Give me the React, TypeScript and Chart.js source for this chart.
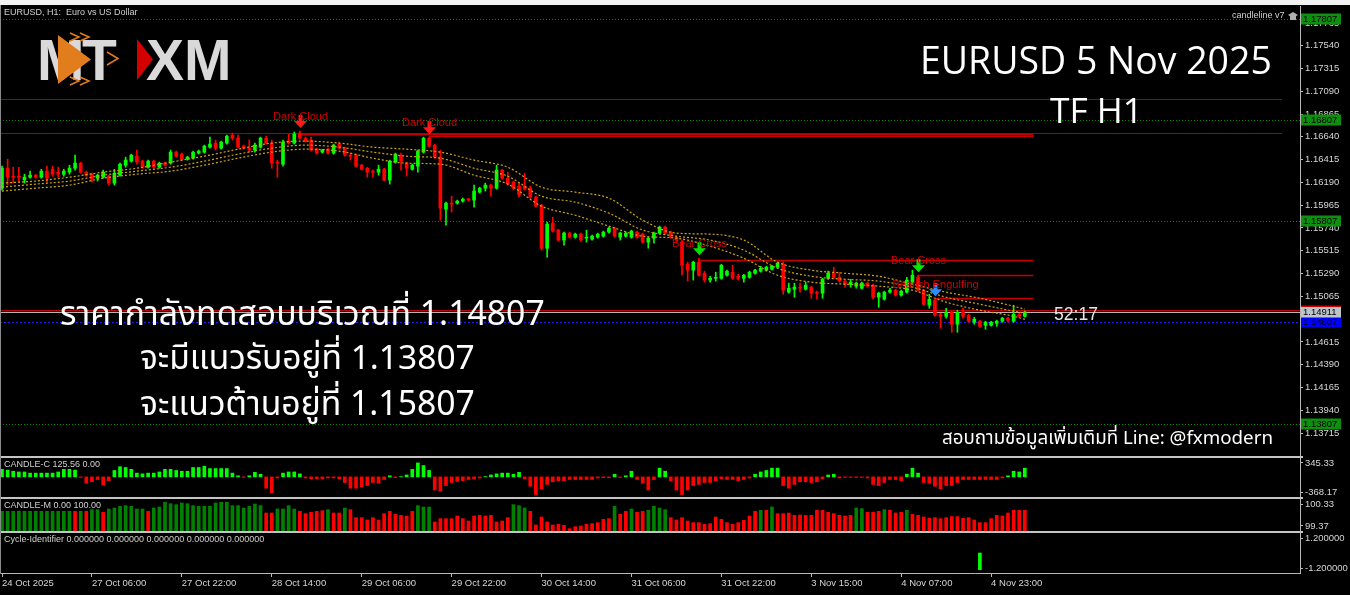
import React, { useEffect, useRef } from "react";
import { Chart, registerables } from "chart.js";
Chart.register(...registerables);

// ---------------- data ----------------
const xTickIndex = [0, 16, 32, 48, 64, 80, 96, 112, 128, 144, 160, 176];
const xTickLabels = ["24 Oct 2025", "27 Oct 06:00", "27 Oct 22:00", "28 Oct 14:00", "29 Oct 06:00", "29 Oct 22:00", "30 Oct 14:00", "31 Oct 06:00", "31 Oct 22:00", "3 Nov 15:00", "4 Nov 07:00", "4 Nov 23:00"];
const priceTicks = [1.13715, 1.1394, 1.14165, 1.1439, 1.14615, 1.1484, 1.15065, 1.1529, 1.15515, 1.1574, 1.15965, 1.1619, 1.16415, 1.1664, 1.16865, 1.1709, 1.17315, 1.1754, 1.17765];

const opens = [
  1.16133, 1.1633, 1.16251, 1.16251, 1.16213, 1.16241, 1.16261, 1.16241, 1.16301, 1.1632,
  1.16291, 1.16271, 1.16291, 1.1633, 1.1638, 1.16291, 1.16271, 1.16231, 1.16241, 1.16251,
  1.16183, 1.16261, 1.1636, 1.164, 1.16449, 1.164, 1.1634, 1.164, 1.1634, 1.1638,
  1.1638, 1.16489, 1.16469, 1.16419, 1.16429, 1.16479, 1.16489, 1.16538, 1.16578, 1.16528,
  1.16578, 1.16657, 1.16627, 1.16548, 1.16528, 1.16509, 1.16538, 1.16627, 1.16578, 1.1639,
  1.1637, 1.16598, 1.16578, 1.16677, 1.16627, 1.16608, 1.16518, 1.16489, 1.16518, 1.16479,
  1.16568, 1.16528, 1.16459, 1.16459, 1.1636, 1.1633, 1.16301, 1.16291, 1.1632, 1.16213,
  1.1639, 1.16459, 1.1638, 1.1632, 1.1635, 1.16489, 1.16627, 1.16558, 1.16439, 1.15925,
  1.15985, 1.15985, 1.16005, 1.16024, 1.16015, 1.16094, 1.16133, 1.16163, 1.16133, 1.16311,
  1.16231, 1.16193, 1.16153, 1.16153, 1.16133, 1.16044, 1.15965, 1.1554, 1.15787, 1.15719,
  1.1562, 1.15689, 1.15649, 1.15679, 1.15639, 1.15629, 1.15649, 1.15659, 1.15699, 1.15738,
  1.15649, 1.15659, 1.15649, 1.15699, 1.15679, 1.156, 1.15639, 1.15689, 1.15748, 1.15699,
  1.15649, 1.156, 1.15382, 1.15323, 1.15402, 1.15293, 1.15225, 1.15243, 1.15243, 1.15273,
  1.15303, 1.15263, 1.15243, 1.15253, 1.15293, 1.15313, 1.15323, 1.15332, 1.15352, 1.15382,
  1.15106, 1.15135, 1.15155, 1.15135, 1.15155, 1.15106, 1.15096, 1.15243, 1.15293, 1.15253,
  1.15215, 1.15185, 1.15165, 1.15145, 1.15195, 1.15175, 1.15056, 1.15036, 1.15106, 1.15126,
  1.15076, 1.15106, 1.15205, 1.15253, 1.15126, 1.14977, 1.15027, 1.14888, 1.14868, 1.14908,
  1.14789, 1.14908, 1.14878, 1.14809, 1.14819, 1.14779, 1.14779, 1.14799, 1.14819, 1.14848,
  1.14819, 1.14888, 1.14868,
];
const highs = [
  1.1635, 1.16419, 1.1634, 1.1634, 1.16271, 1.16301, 1.16271, 1.1632, 1.1635, 1.1635,
  1.1634, 1.1632, 1.1636, 1.16459, 1.1639, 1.16301, 1.16281, 1.16271, 1.16311, 1.16261,
  1.1632, 1.1638, 1.16439, 1.16469, 1.16509, 1.1641, 1.1641, 1.1641, 1.1639, 1.1639,
  1.16509, 1.16499, 1.16479, 1.16449, 1.16499, 1.16509, 1.16558, 1.16637, 1.16608, 1.16598,
  1.16657, 1.16677, 1.16657, 1.16558, 1.16608, 1.16578, 1.16637, 1.16647, 1.16608, 1.1641,
  1.16608, 1.16667, 1.16687, 1.16697, 1.16637, 1.16637, 1.16528, 1.16518, 1.16528, 1.16568,
  1.16588, 1.16538, 1.16479, 1.16469, 1.1637, 1.1634, 1.16311, 1.1636, 1.1633, 1.1641,
  1.16479, 1.16479, 1.1639, 1.1637, 1.16509, 1.16637, 1.16637, 1.16568, 1.16509, 1.15995,
  1.16054, 1.16015, 1.16034, 1.16034, 1.16163, 1.16143, 1.16183, 1.16173, 1.1636, 1.1632,
  1.16291, 1.16203, 1.16183, 1.16281, 1.16153, 1.16054, 1.15975, 1.15797, 1.15846, 1.15728,
  1.15699, 1.15699, 1.15689, 1.15689, 1.15719, 1.15669, 1.15689, 1.15709, 1.15748, 1.15748,
  1.15699, 1.15699, 1.15719, 1.15709, 1.15689, 1.15649, 1.15699, 1.15758, 1.15758, 1.15709,
  1.15659, 1.1562, 1.15402, 1.15412, 1.15441, 1.15313, 1.15263, 1.15303, 1.15382, 1.15323,
  1.15372, 1.15283, 1.15283, 1.15313, 1.15332, 1.15362, 1.15362, 1.15372, 1.15402, 1.15402,
  1.15195, 1.15195, 1.15195, 1.15205, 1.15165, 1.15116, 1.15243, 1.15313, 1.15352, 1.15303,
  1.15225, 1.15233, 1.15205, 1.15205, 1.15205, 1.15185, 1.15106, 1.15116, 1.15145, 1.15135,
  1.15126, 1.15253, 1.15323, 1.15273, 1.15135, 1.15086, 1.15036, 1.14898, 1.14947, 1.14918,
  1.14928, 1.14947, 1.14888, 1.14858, 1.14829, 1.14819, 1.14819, 1.14829, 1.14858, 1.14858,
  1.14977, 1.14898, 1.14918,
];
const lows = [
  1.16114, 1.16163, 1.16183, 1.16193, 1.16183, 1.16231, 1.16231, 1.16231, 1.16193, 1.16251,
  1.16241, 1.16251, 1.16271, 1.16311, 1.16281, 1.16251, 1.16193, 1.16203, 1.16231, 1.16163,
  1.16163, 1.16251, 1.1634, 1.1639, 1.1637, 1.1633, 1.1633, 1.1633, 1.1633, 1.1635,
  1.1637, 1.16439, 1.1641, 1.1641, 1.16419, 1.16469, 1.16479, 1.16528, 1.16509, 1.16518,
  1.16568, 1.16608, 1.16528, 1.16518, 1.16489, 1.16489, 1.16528, 1.16568, 1.1633, 1.16241,
  1.1635, 1.16568, 1.16568, 1.16617, 1.16588, 1.16499, 1.16469, 1.16479, 1.16469, 1.16469,
  1.16518, 1.16449, 1.1641, 1.1634, 1.16311, 1.16241, 1.16241, 1.16261, 1.16203, 1.16173,
  1.1638, 1.16311, 1.16251, 1.16311, 1.16291, 1.16479, 1.16538, 1.16429, 1.15817, 1.15767,
  1.15896, 1.15975, 1.15995, 1.16005, 1.15945, 1.16084, 1.16104, 1.16054, 1.16123, 1.16221,
  1.16163, 1.16114, 1.16044, 1.16114, 1.16034, 1.15945, 1.15521, 1.15451, 1.15699, 1.1561,
  1.1557, 1.15639, 1.15639, 1.1561, 1.156, 1.1562, 1.15639, 1.15649, 1.15689, 1.15649,
  1.1562, 1.15649, 1.15639, 1.15639, 1.1559, 1.1554, 1.1559, 1.15679, 1.15679, 1.15639,
  1.1561, 1.15273, 1.15215, 1.15225, 1.15263, 1.15205, 1.15205, 1.15215, 1.15233, 1.15263,
  1.15233, 1.15225, 1.15205, 1.15243, 1.15283, 1.15303, 1.15313, 1.15323, 1.15342, 1.15086,
  1.15096, 1.15056, 1.15106, 1.15126, 1.15046, 1.15036, 1.15046, 1.15233, 1.15243, 1.15205,
  1.15155, 1.15155, 1.15145, 1.15135, 1.15155, 1.15036, 1.14957, 1.15027, 1.15096, 1.15066,
  1.15066, 1.15096, 1.15195, 1.15116, 1.14977, 1.14947, 1.14868, 1.14749, 1.14848, 1.1471,
  1.1471, 1.14848, 1.14809, 1.14789, 1.14759, 1.14739, 1.14769, 1.14769, 1.14809, 1.14809,
  1.14809, 1.14858, 1.14858,
];
const closes = [
  1.1633, 1.16241, 1.16241, 1.16241, 1.16241, 1.16261, 1.16241, 1.16301, 1.16231, 1.16271,
  1.16271, 1.16301, 1.1633, 1.1638, 1.16291, 1.16261, 1.16221, 1.16261, 1.16291, 1.16183,
  1.16281, 1.1637, 1.1641, 1.16459, 1.1639, 1.1634, 1.164, 1.1634, 1.1638, 1.1636,
  1.16489, 1.16449, 1.16419, 1.16439, 1.16489, 1.16499, 1.16548, 1.16568, 1.16528, 1.16588,
  1.16647, 1.16627, 1.16538, 1.16528, 1.16509, 1.16558, 1.16627, 1.16578, 1.1638, 1.1638,
  1.16588, 1.16578, 1.16667, 1.16627, 1.16598, 1.16509, 1.16479, 1.16509, 1.16479, 1.16558,
  1.16528, 1.16459, 1.16449, 1.1635, 1.1632, 1.16291, 1.16291, 1.1632, 1.16213, 1.164,
  1.16469, 1.164, 1.1633, 1.1636, 1.16499, 1.16627, 1.16548, 1.16439, 1.15935, 1.15985,
  1.15975, 1.16005, 1.16024, 1.16015, 1.16104, 1.16133, 1.16163, 1.16133, 1.16311, 1.16231,
  1.16173, 1.16133, 1.16064, 1.16123, 1.16044, 1.15955, 1.1554, 1.15777, 1.15709, 1.1562,
  1.15689, 1.15649, 1.15679, 1.1562, 1.15649, 1.15659, 1.15679, 1.15699, 1.15738, 1.15659,
  1.15689, 1.15689, 1.15709, 1.15649, 1.156, 1.15639, 1.15689, 1.15748, 1.15689, 1.15649,
  1.1562, 1.15372, 1.15323, 1.15402, 1.15273, 1.15225, 1.15243, 1.15253, 1.15372, 1.15313,
  1.15243, 1.15243, 1.15273, 1.15303, 1.15323, 1.15342, 1.15352, 1.15362, 1.15392, 1.15126,
  1.15145, 1.15155, 1.15145, 1.15175, 1.15096, 1.15096, 1.15233, 1.15293, 1.15253, 1.15215,
  1.15185, 1.15205, 1.15195, 1.15195, 1.15165, 1.15056, 1.15096, 1.15106, 1.15126, 1.15076,
  1.15116, 1.15225, 1.15273, 1.15126, 1.14987, 1.15036, 1.14878, 1.14868, 1.14908, 1.14789,
  1.14908, 1.14868, 1.14819, 1.14838, 1.14769, 1.14809, 1.14809, 1.14819, 1.14848, 1.14829,
  1.14888, 1.14868, 1.14911,
];

// moving-average envelope read at every 6th bar
const maIndex = [0, 6, 12, 18, 24, 30, 36, 42, 48, 54, 60, 66, 72, 78, 84, 90, 96, 102, 108, 114, 120, 126, 132, 138, 144, 150, 156, 162, 168, 174, 180, 182];
const maUpper = [1.16183, 1.16203, 1.16241, 1.16291, 1.1633, 1.1639, 1.16449, 1.16518, 1.16578, 1.16598, 1.16578, 1.16538, 1.16518, 1.16489, 1.1641, 1.1634, 1.16143, 1.16094, 1.16034, 1.15817, 1.15689, 1.15679, 1.1562, 1.15402, 1.15323, 1.15293, 1.15263, 1.15185, 1.15106, 1.15046, 1.14967, 1.14938];
const maMiddle = [1.16143, 1.16173, 1.16203, 1.16261, 1.16301, 1.1634, 1.164, 1.16469, 1.16528, 1.16558, 1.16538, 1.16489, 1.16449, 1.16429, 1.1633, 1.16251, 1.16054, 1.15995, 1.15886, 1.15719, 1.15659, 1.1562, 1.15521, 1.15342, 1.15263, 1.15233, 1.15215, 1.15155, 1.15056, 1.14987, 1.14918, 1.14898];
const maLower = [1.16104, 1.16133, 1.16163, 1.16231, 1.16271, 1.16301, 1.1636, 1.16429, 1.16489, 1.16518, 1.16499, 1.16429, 1.1638, 1.1637, 1.16261, 1.16173, 1.15955, 1.15866, 1.15758, 1.15659, 1.15639, 1.1556, 1.15441, 1.15273, 1.15205, 1.15185, 1.15165, 1.15126, 1.15007, 1.14928, 1.14868, 1.14838];

// horizontal levels
const keyLevels = [1.17807, 1.16807, 1.15807, 1.13807];
const testLevel = 1.14807;
const bidPrice = 1.14911;
const askPrice = 1.14928;
const longRedLevels = [1.17013, 1.16677];
const segStartBar = [53, 76, 124, 163, 166];
const segPrice = [1.16667, 1.16647, 1.15422, 1.15273, 1.15046];

// candlestick patterns
const patternBars = [53, 76, 124, 163, 166];
const patternNames = ["Dark Cloud", "Dark Cloud", "Bear Cross", "Bear Cross", "Bearish Engulfing"];

// indicators
const candleC = [
  138, 124, 103, 90, 90, 69, 69, 69, 69, 69,
  90, 138, 138, 124, -10, -117, -90, -48, -152, -69,
  117, 186, 172, 138, 69, 55, 69, 69, 90, 138,
  138, 117, 103, 103, 172, 172, 193, 152, 152, 152,
  152, 69, 20, -10, 20, 83, 48, -207, -290, -20,
  69, 90, 90, 55, -20, -35, -35, -35, -20, -20,
  -35, -103, -207, -207, -186, -159, -103, -117, -48, 20,
  -15, 5, 35, 138, 255, 207, 117, -241, -262, -159,
  -103, -83, -69, -48, -35, -20, 5, 35, 55, 69,
  69, 48, 83, -35, -172, -324, -221, -138, -90, -69,
  -69, -48, -48, -48, -48, -48, -20, -15, -15, 48,
  -10, 20, 103, -48, -117, -241, -50, 159, 103, -69,
  -241, -324, -241, -159, -138, -103, -103, -69, -35, -48,
  -48, -69, -48, -20, 48, 90, 117, 159, 159, -159,
  -207, -138, -90, -90, -103, -90, -35, 35, 48, -20,
  -10, -10, -10, -10, -20, -138, -159, -103, -48, -48,
  -69, 48, 159, 69, -103, -117, -172, -221, -159, -159,
  -103, -48, -48, -48, -48, -48, -48, -48, -20, 20,
  103, 90, 159,
];
const candleM = [
  99.96, 99.96, 99.96, 99.96, 99.96, 99.96, 99.96, 99.96, 99.96, 99.96,
  99.96, 99.96, 99.96, 99.96, 99.96, 99.96, 100.01, 100.01, 99.93, 100.03,
  100.06, 100.11, 100.13, 100.11, 100.03, 100.03, 99.96, 100.06, 100.09, 100.23,
  100.19, 100.16, 100.21, 100.19, 100.13, 100.11, 100.11, 100.11, 100.21, 100.23,
  100.23, 100.13, 100.13, 100.06, 100.11, 100.18, 100.13, 99.91, 99.91, 100.03,
  100.03, 100.13, 100.03, 99.96, 99.89, 99.93, 99.96, 99.98, 100.01, 99.91,
  99.91, 100.06, 100.01, 99.77, 99.77, 99.7, 99.77, 99.7, 99.89, 99.96,
  99.87, 99.84, 99.82, 99.96, 100.13, 100.09, 100.09, 99.64, 99.74, 99.74,
  99.74, 99.82, 99.74, 99.67, 99.82, 99.84, 99.82, 99.84, 99.64, 99.67,
  99.77, 100.16, 100.13, 100.06, 99.96, 99.55, 99.79, 99.64, 99.55, 99.57,
  99.54, 99.44, 99.5, 99.52, 99.57, 99.59, 99.62, 99.72, 99.74, 100.11,
  99.87, 99.96, 100.03, 99.93, 99.96, 99.99, 100.11, 100.06, 100.01, 99.77,
  99.7, 99.77, 99.67, 99.62, 99.62, 99.57, 99.59, 99.79, 99.72, 99.62,
  99.57, 99.62, 99.69, 99.82, 99.96, 99.99, 99.99, 100.09, 99.89, 99.89,
  99.91, 99.84, 99.85, 99.84, 99.84, 99.99, 99.99, 99.93, 99.89, 99.84,
  99.82, 99.84, 100.06, 100.04, 99.93, 99.93, 99.96, 100.01, 99.99, 99.91,
  99.93, 99.99, 99.87, 99.84, 99.79, 99.75, 99.77, 99.74, 99.77, 99.8,
  99.8, 99.75, 99.77, 99.7, 99.62, 99.62, 99.74, 99.84, 99.82, 99.91,
  99.99, 99.99, 99.99,
];
// CANDLE-M state, run-length: [state, number of bars]
const candleMRuns = [
  ["G", 13], ["R", 1], ["G", 1], ["R", 1], ["G", 2], ["R", 1], ["G", 7], ["R", 1], ["G", 20], ["R", 2],
  ["G", 4], ["R", 5], ["G", 1], ["R", 2], ["G", 1], ["R", 12], ["G", 3], ["R", 14], ["G", 3], ["R", 15],
  ["G", 1], ["R", 2], ["G", 1], ["R", 2], ["G", 4], ["R", 16], ["G", 1], ["R", 1], ["G", 1], ["R", 14],
  ["G", 2], ["R", 3], ["G", 1], ["R", 3], ["G", 1], ["R", 21],
];
const cycleBars = [174];
const cycleValues = [-1];

// ---------------- layout / style ----------------
const X_MIN = -0.356;
const X_MAX = 230.96;
const AXIS_W = 50;
const MAIN_TOP = 6;
const MAIN_H = 450;
const Y_MIN = 1.13488;
const Y_MAX = 1.17932;
const BULL = "#00ff00";
const BEAR = "#ff0000";
const MA_COLOR = "#cfa514";
const AXIS_TXT = "#d6d6d6";
const AXIS_LINE = "#b8b8b8";
const SMALL_FONT = "'Liberation Sans', Arial, sans-serif";
const TITLE_FONT = "'Open Sans', 'Noto Sans', sans-serif";
const THAI_FONT = "'Noto Sans Thai', 'Noto Sans Thai Looped', 'Noto Sans', 'Open Sans', sans-serif";
const ARROW_COLORS = { "Dark Cloud": "#ff1a1a", "Bear Cross": "#00e600", "Bearish Engulfing": "#2d8cff" };

const idx = opens.map((_, i) => i);
const candleColors = idx.map((i) => (closes[i] >= opens[i] ? BULL : BEAR));

function fitText(ctx, text, x, cy, width, nominal, family, color, weight = "400") {
  ctx.font = `${weight} ${nominal}px ${family}`;
  const w = ctx.measureText(text).width || width;
  let size = (nominal * width) / w;
  size = Math.max(nominal * 0.75, Math.min(nominal * 1.3, size));
  ctx.font = `${weight} ${size}px ${family}`;
  ctx.fillStyle = color;
  ctx.textAlign = "left";
  ctx.textBaseline = "middle";
  ctx.fillText(text, x, cy);
}

function hLine(ctx, x1, x2, y) {
  ctx.beginPath();
  ctx.moveTo(x1, y);
  ctx.lineTo(x2, y);
  ctx.stroke();
}

function drawLogo(ctx, oy) {
  ctx.save();
  ctx.textAlign = "left";
  ctx.textBaseline = "alphabetic";
  ctx.font = `bold 57px ${SMALL_FONT}`;
  ctx.fillStyle = "#d9d9d9";
  ctx.fillText("M", 37, 80 - oy);
  ctx.fillText("T", 82, 80 - oy);
  ctx.fillStyle = "#e27d1d";
  ctx.beginPath();
  ctx.moveTo(58, 35 - oy);
  ctx.lineTo(91, 59.5 - oy);
  ctx.lineTo(58, 84 - oy);
  ctx.closePath();
  ctx.fill();
  ctx.strokeStyle = "#e27d1d";
  ctx.lineWidth = 1.5;
  const chev = (x, y, w, h) => {
    ctx.beginPath();
    ctx.moveTo(x, y - oy);
    ctx.lineTo(x + w, y + h / 2 - oy);
    ctx.lineTo(x, y + h - oy);
    ctx.stroke();
  };
  chev(70, 33, 9, 8);
  chev(80, 33, 9, 8);
  chev(70, 77, 9, 8);
  chev(80, 77, 9, 8);
  chev(107, 52, 11, 13);
  ctx.fillStyle = "#d40000";
  ctx.beginPath();
  ctx.moveTo(137, 39 - oy);
  ctx.lineTo(153, 59.5 - oy);
  ctx.lineTo(137, 80 - oy);
  ctx.closePath();
  ctx.fill();
  ctx.fillStyle = "#d9d9d9";
  ctx.fillText("XM", 146, 80 - oy);
  ctx.restore();
}

function priceBox(ctx, y, text, bg, fg) {
  const yy = Math.round(y);
  ctx.fillStyle = bg;
  ctx.fillRect(1301, yy - 5.5, 40, 11);
  ctx.fillStyle = fg;
  ctx.font = `9.5px ${SMALL_FONT}`;
  ctx.textAlign = "left";
  ctx.textBaseline = "middle";
  ctx.fillText(text, 1303, yy + 0.5);
}

const mainOverlay = {
  id: "mainOverlay",
  beforeDatasetsDraw(chart) {
    const { ctx, chartArea } = chart;
    const xs = chart.scales.x;
    const ys = chart.scales.y;
    const py = (v) => Math.round(ys.getPixelForValue(v)) + 0.5;
    ctx.save();
    ctx.lineWidth = 1;
    ctx.strokeStyle = "#008c00";
    ctx.setLineDash([1, 2]);
    keyLevels.forEach((p) => hLine(ctx, 0, chartArea.right, py(p)));
    ctx.strokeStyle = "#1a1aff";
    ctx.setLineDash([2, 2]);
    hLine(ctx, 0, chartArea.right, py(testLevel));
    ctx.setLineDash([]);
    const endX = xs.getPixelForValue(183.5);
    ctx.strokeStyle = "#a80000";
    longRedLevels.forEach((p) => hLine(ctx, 0, 1282, py(p)));
    ctx.strokeStyle = "#c40000";
    ctx.lineWidth = 1.5;
    segStartBar.forEach((b, k) => hLine(ctx, xs.getPixelForValue(b), endX, py(segPrice[k])));
    ctx.lineWidth = 1;
    ctx.strokeStyle = "#c00000";
    hLine(ctx, 0, chartArea.right, py(askPrice));
    ctx.strokeStyle = "#b4b4b4";
    hLine(ctx, 0, chartArea.right, py(bidPrice));
    ctx.restore();
  },
  afterDatasetsDraw(chart) {
    const { ctx } = chart;
    const xs = chart.scales.x;
    const ys = chart.scales.y;
    ctx.save();
    patternBars.forEach((b, k) => {
      const cx = Math.round(xs.getPixelForValue(b)) + 0.5;
      const tip = ys.getPixelForValue(highs[b]) - 3;
      const name = patternNames[k];
      ctx.fillStyle = ARROW_COLORS[name];
      ctx.fillRect(cx - 2, tip - 13, 4, 7);
      ctx.beginPath();
      ctx.moveTo(cx - 6.5, tip - 7);
      ctx.lineTo(cx + 6.5, tip - 7);
      ctx.lineTo(cx, tip);
      ctx.closePath();
      ctx.fill();
      ctx.font = `11px ${SMALL_FONT}`;
      ctx.fillStyle = "#d00000";
      ctx.textAlign = "center";
      ctx.textBaseline = "middle";
      ctx.fillText(name, cx, tip - 11);
    });
    ctx.restore();
  },
  afterDraw(chart) {
    const { ctx } = chart;
    const ys = chart.scales.y;
    const oy = MAIN_TOP;
    ctx.save();
    keyLevels.forEach((p) => priceBox(ctx, ys.getPixelForValue(p), p.toFixed(5), "#0e8f0e", "#000"));
    priceBox(ctx, ys.getPixelForValue(testLevel), testLevel.toFixed(5), "#0000ff", "#000");
    priceBox(ctx, ys.getPixelForValue(bidPrice), bidPrice.toFixed(5), "#bcc4cc", "#000");
    ctx.fillStyle = "#d00000";
    ctx.fillRect(1301, Math.round(ys.getPixelForValue(bidPrice)) - 6.5, 40, 1.5);

    // MT4 captions
    ctx.font = `9px ${SMALL_FONT}`;
    ctx.fillStyle = "#d0d0d0";
    ctx.textAlign = "left";
    ctx.textBaseline = "middle";
    ctx.fillText("EURUSD, H1:  Euro vs US Dollar", 4, 13 - oy);
    ctx.fillText("candleline v7", 1232, 16 - oy);
    ctx.fillStyle = "#b0b0b0";
    ctx.beginPath();
    ctx.moveTo(1288, 15 - oy);
    ctx.lineTo(1293, 12 - oy);
    ctx.lineTo(1298, 15 - oy);
    ctx.lineTo(1293, 18 - oy);
    ctx.closePath();
    ctx.fill();
    ctx.fillRect(1290, 16 - oy, 6, 4);

    drawLogo(ctx, oy);

    fitText(ctx, "EURUSD 5 Nov 2025", 920, 63 - oy, 352, 36, TITLE_FONT, "#ffffff");
    fitText(ctx, "TF H1", 1050, 113 - oy, 93, 36, TITLE_FONT, "#ffffff");
    fitText(ctx, "ราคากำลังทดสอบบริเวณที่ 1.14807", 60, 318 - oy, 485, 30, THAI_FONT, "#ffffff");
    fitText(ctx, "จะมีแนวรับอยู่ที่ 1.13807", 140, 362 - oy, 335, 30, THAI_FONT, "#ffffff");
    fitText(ctx, "จะแนวต้านอยู่ที่ 1.15807", 140, 408 - oy, 335, 30, THAI_FONT, "#ffffff");
    fitText(ctx, "สอบถามข้อมูลเพิ่มเติมที่ Line: @fxmodern", 942, 440 - oy, 331, 17, THAI_FONT, "#ffffff");
    fitText(ctx, "52:17", 1054, 315 - oy, 44, 16, SMALL_FONT, "#e6e6e6");
    ctx.restore();
  },
};

function yAxisRight(extra) {
  return {
    type: "linear",
    position: "right",
    afterFit: (s) => {
      s.width = AXIS_W;
      s.paddingTop = 0;
      s.paddingBottom = 0;
    },
    ticks: { autoSkip: false, color: AXIS_TXT, padding: 2, font: { family: SMALL_FONT, size: 9.5 } },
    grid: { drawOnChartArea: false, drawTicks: true, tickLength: 3, color: AXIS_LINE },
    border: { display: true, color: AXIS_LINE },
    ...extra,
  };
}

function hiddenX() {
  return { type: "linear", min: X_MIN, max: X_MAX, offset: false, display: false, grid: { offset: false } };
}

const baseOptions = {
  responsive: false,
  animation: false,
  devicePixelRatio: 1,
  events: [],
  layout: { padding: 0 },
  plugins: { legend: { display: false }, tooltip: { enabled: false } },
};

function mainConfig() {
  const line = (vals) => ({
    type: "line",
    data: maIndex.map((x, k) => ({ x, y: vals[k] })),
    borderColor: MA_COLOR,
    borderWidth: 1.2,
    borderDash: [2, 2],
    pointRadius: 0,
    cubicInterpolationMode: "monotone",
    order: 0,
  });
  return {
    type: "bar",
    data: {
      datasets: [
        line(maUpper),
        line(maMiddle),
        line(maLower),
        {
          type: "bar",
          data: idx.map((i) => ({ x: i, y: [opens[i], closes[i]] })),
          backgroundColor: candleColors,
          barThickness: 3,
          grouped: false,
          minBarLength: 1,
          borderWidth: 0,
          order: 1,
        },
        {
          type: "bar",
          data: idx.map((i) => ({ x: i, y: [lows[i], highs[i]] })),
          backgroundColor: candleColors,
          barThickness: 1,
          grouped: false,
          borderWidth: 0,
          order: 2,
        },
      ],
    },
    options: {
      ...baseOptions,
      scales: {
        x: hiddenX(),
        y: yAxisRight({
          min: Y_MIN,
          max: Y_MAX,
          afterBuildTicks: (s) => {
            s.ticks = priceTicks.map((v) => ({ value: v }));
          },
          ticks: {
            autoSkip: false,
            color: AXIS_TXT,
            padding: 2,
            font: { family: SMALL_FONT, size: 9.5 },
            callback: (v) => Number(v).toFixed(5),
          },
        }),
      },
    },
    plugins: [mainOverlay],
  };
}

function titlePlugin(text) {
  return {
    id: "panelTitle",
    afterDraw(chart) {
      const { ctx } = chart;
      ctx.save();
      ctx.font = `9px ${SMALL_FONT}`;
      ctx.fillStyle = "#d0d0d0";
      ctx.textAlign = "left";
      ctx.textBaseline = "middle";
      ctx.fillText(text, 4, 7);
      ctx.restore();
    },
  };
}

function panelY(min, max, h, labels) {
  const span = max - min;
  const lo = min + (5 / h) * span;
  const hi = max - (5 / h) * span;
  return yAxisRight({
    min,
    max,
    afterBuildTicks: (s) => {
      s.ticks = [{ value: lo }, { value: hi }];
    },
    ticks: {
      autoSkip: false,
      color: AXIS_TXT,
      padding: 2,
      font: { family: SMALL_FONT, size: 9.5 },
      callback: (v, i) => labels[i],
    },
  });
}

const candleMState = candleMRuns.flatMap(([s, n]) => Array.from({ length: n }, () => s));

function candleCConfig(h) {
  return {
    type: "bar",
    data: {
      datasets: [
        {
          data: candleC.map((v, i) => ({ x: i, y: v })),
          backgroundColor: candleC.map((v) => (v >= 0 ? BULL : BEAR)),
          barThickness: 3,
          grouped: false,
          borderWidth: 0,
        },
      ],
    },
    options: {
      ...baseOptions,
      scales: { x: hiddenX(), y: panelY(-368.17, 345.33, h, ["-368.17", "345.33"]) },
    },
    plugins: [titlePlugin("CANDLE-C 125.56 0.00")],
  };
}

function candleMConfig(h) {
  return {
    type: "bar",
    data: {
      datasets: [
        {
          data: candleM.map((v, i) => ({ x: i, y: v })),
          backgroundColor: candleMState.map((s) => (s === "G" ? "#008000" : "#ff0000")),
          base: 99.37,
          barThickness: 3,
          grouped: false,
          borderWidth: 0,
        },
      ],
    },
    options: {
      ...baseOptions,
      scales: { x: hiddenX(), y: panelY(99.37, 100.33, h, ["99.37", "100.33"]) },
    },
    plugins: [titlePlugin("CANDLE-M 0.00 100.00")],
  };
}

function cycleConfig(h) {
  return {
    type: "bar",
    data: {
      datasets: [
        {
          data: cycleBars.map((b, k) => ({ x: b, y: cycleValues[k] })),
          backgroundColor: BULL,
          barThickness: 3,
          grouped: false,
          borderWidth: 0,
        },
      ],
    },
    options: {
      ...baseOptions,
      scales: {
        x: {
          type: "linear",
          min: X_MIN,
          max: X_MAX,
          offset: false,
          position: "bottom",
          afterBuildTicks: (s) => {
            s.ticks = xTickIndex.map((v) => ({ value: v }));
          },
          afterFit: (s) => {
            s.height = 22;
            s.paddingLeft = 0;
            s.paddingRight = 0;
          },
          ticks: {
            autoSkip: false,
            maxRotation: 0,
            minRotation: 0,
            align: "start",
            padding: 1,
            color: AXIS_TXT,
            font: { family: SMALL_FONT, size: 9.5 },
            callback: (v, i) => xTickLabels[i],
          },
          grid: { drawOnChartArea: false, drawTicks: true, tickLength: 4, color: AXIS_LINE, offset: false },
          border: { display: true, color: AXIS_LINE },
        },
        y: panelY(-1.2, 1.2, h, ["-1.200000", "1.200000"]),
      },
    },
    plugins: [titlePlugin("Cycle-Identifier 0.000000 0.000000 0.000000 0.000000 0.000000")],
  };
}

const C_TOP = 458, C_H = 39;
const M_TOP = 499, M_H = 32;
const CY_TOP = 533, CY_H = 40;

export default function App() {
  const mainRef = useRef(null);
  const cRef = useRef(null);
  const mRef = useRef(null);
  const cyRef = useRef(null);

  useEffect(() => {
    const charts = [
      new Chart(mainRef.current, mainConfig() as any),
      new Chart(cRef.current, candleCConfig(C_H) as any),
      new Chart(mRef.current, candleMConfig(M_H) as any),
      new Chart(cyRef.current, cycleConfig(CY_H) as any),
    ];
    return () => charts.forEach((c) => c.destroy());
  }, []);

  const abs = (top, h) => ({ position: "absolute" as const, left: 0, top, width: 1350, height: h, display: "block" });
  const sep = (top, h = 2, color = "#c4c4c4") => (
    <div style={{ position: "absolute", left: 0, top, width: 1303, height: h, background: color }} />
  );

  return (
    <div style={{ position: "fixed", left: 0, top: 0, width: 1350, height: 595, background: "#000", overflow: "hidden" }}>
      <div style={{ position: "absolute", left: 0, top: 0, width: 1350, height: 5, background: "#f2f2f2" }} />
      <canvas ref={mainRef} width={1350} height={MAIN_H} style={abs(MAIN_TOP, MAIN_H)} />
      {sep(456)}
      <canvas ref={cRef} width={1350} height={C_H} style={abs(C_TOP, C_H)} />
      {sep(497)}
      <canvas ref={mRef} width={1350} height={M_H} style={abs(M_TOP, M_H)} />
      {sep(531)}
      <canvas ref={cyRef} width={1350} height={CY_H + 22} style={abs(CY_TOP, CY_H + 22)} />
      <div style={{ position: "absolute", left: 0, top: 5, width: 1, height: 569, background: "#8a8a8a" }} />
    </div>
  );
}
